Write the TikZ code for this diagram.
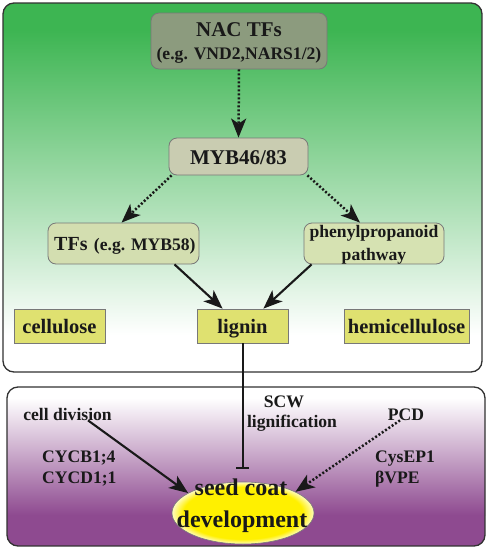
\documentclass[tikz,border=0pt]{standalone}
\usepackage{fontspec}
\setmainfont{Liberation Serif}
\usetikzlibrary{arrows.meta,shapes.geometric}
\definecolor{gtop}{RGB}{61,181,82}
\definecolor{ppl}{RGB}{142,74,144}
\definecolor{nacfill}{RGB}{140,155,126}
\definecolor{mybfill}{RGB}{201,204,177}
\definecolor{tffill}{RGB}{211,222,176}
\definecolor{phfill}{RGB}{214,226,178}
\definecolor{yelbox}{RGB}{223,225,112}
\definecolor{ylw}{RGB}{255,240,0}
\definecolor{boxline}{RGB}{120,120,120}
\definecolor{panelline}{RGB}{50,50,50}
\definecolor{txtc}{RGB}{25,25,25}
\pgfdeclareradialshading{ellglow}{\pgfpoint{0bp}{0bp}}{color(0bp)=(ylw); color(21bp)=(ylw); color(25bp)=(ylw!25!white); color(50bp)=(white)}
\begin{document}
\begin{tikzpicture}[x=1pt,y=-1pt,
  panel/.style={draw=panelline, line width=1.3pt, rounded corners=11pt},
  rbox/.style={draw=boxline, line width=0.8pt, rounded corners=8pt, inner sep=0pt},
  sbox/.style={draw=boxline, line width=0.8pt, fill=yelbox, inner sep=0pt, minimum height=34pt},
  txt/.style={text=txtc, inner sep=0pt, anchor=base, font=\bfseries},
  arr/.style={line width=2.1pt, draw=txtc, -{Stealth[length=19pt,width=15pt,inset=5pt]}},
  dotarr/.style={arr, line width=2.5pt, dash pattern=on 2pt off 2pt},
  bararr/.style={line width=2pt, draw=txtc, -{Bar[width=13pt,line width=2pt]}},
  f21/.style={font=\bfseries\fontsize{21}{24}\selectfont},
  f20/.style={font=\bfseries\fontsize{20.5}{24}\selectfont},
  f18/.style={font=\bfseries\fontsize{17.6}{21}\selectfont},
  f24/.style={font=\bfseries\fontsize{24}{28}\selectfont}
]
\useasboundingbox (0,0) rectangle (488,550);
\fill[white] (0,0) rectangle (488,550);
% top panel
\begin{scope}
\clip[rounded corners=11pt] (3,3) rectangle (482,372);
\fill[gtop] (3,3) rectangle (482,30);
\shade[top color=gtop, bottom color=white] (3,30) rectangle (482,335);
\fill[white] (3,335) rectangle (482,372);
\end{scope}
\draw[panel] (3,3) rectangle (482,372);
% bottom panel
\begin{scope}
\clip[rounded corners=11pt] (7,387) rectangle (485,546);
\fill[white] (7,387) rectangle (485,398);
\shade[top color=white, bottom color=ppl] (7,398) rectangle (485,515);
\fill[ppl] (7,515) rectangle (485,546);
\end{scope}
\draw[panel] (7,387) rectangle (485,546);

% boxes
\node[rbox, fill=nacfill, minimum width=176pt, minimum height=56pt] (nac) at (239,41) {};
\node[txt, f21] at (239,36) {NAC TFs};
\node[txt, f18] at (239,59) {(e.g. VND2,NARS1/2)};

\node[rbox, fill=mybfill, minimum width=139pt, minimum height=37pt] (myb) at (238.5,156.5) {};
\node[txt, f21] at (238.5,164) {MYB46/83};

\node[rbox, fill=tffill, minimum width=151pt, minimum height=41pt] (tfs) at (123.5,243.5) {};
\node[txt, font=\bfseries\fontsize{20}{24}\selectfont, anchor=base west] (tft) at (54,250) {TFs};
\node[txt, f18, anchor=base west] at ([xshift=6pt]tft.base east) {(e.g. MYB58)};

\node[rbox, fill=phfill, minimum width=140pt, minimum height=41pt] (phen) at (374,243.5) {};
\node[txt, f18] at (374,237) {phenylpropanoid};
\node[txt, f18] at (374,260) {pathway};

\node[sbox, minimum width=91pt] (cel) at (59.5,326) {};
\node[txt, f20] at (59.5,333) {cellulose};
\node[sbox, minimum width=91pt] (lig) at (242.5,326) {};
\node[txt, f20] at (242.5,333) {lignin};
\node[sbox, minimum width=125pt] (hem) at (406.5,326) {};
\node[txt, f20] at (406.5,333) {hemicellulose};

% bottom texts
\node[txt, f18] (celldiv) at (67.5,420) {cell division};
\node[txt, f18] (pcd) at (406,420) {PCD};
\node[txt, f18] at (284,407) {SCW};
\node[txt, f18] at (292,427) {lignification};
\node[txt, f18, anchor=base west] at (42,462) {CYCB1;4};
\node[txt, f18, anchor=base west] at (42,483) {CYCD1;1};
\node[txt, f18, anchor=base west] at (375,462) {CysEP1};
\node[txt, f18, anchor=base west] at (375,483) {βVPE};

% ellipse
\node[ellipse, draw=boxline, line width=0.6pt, shade, shading=ellglow, minimum width=142pt, minimum height=62pt, inner sep=0pt] (seed) at (243,513) {};
\node[txt, f24] at (241,495) {seed coat};
\node[txt, f24] at (242,527) {development};

% connectors
\draw[dotarr] (nac.south) -- (myb.north);
\draw[dotarr] (myb.south west) ++(3,0) -- ([xshift=-2pt]tfs.north);
\draw[dotarr] (myb.south east) ++(-1,0) -- ([xshift=-14pt]phen.north);
\draw[arr] ([xshift=51pt]tfs.south) -- ([xshift=26pt]lig.north west);
\draw[arr] ([xshift=8pt]phen.south west) -- ([xshift=-25pt]lig.north east);
\draw[bararr, shorten >=13pt] (lig.south) -- (lig.south |- seed.north);
\draw[arr] ([xshift=20.5pt]celldiv.south) -- (seed.160);
\draw[dotarr] ([xshift=-6pt]pcd.south) -- (seed.22);
\end{tikzpicture}
\end{document}
